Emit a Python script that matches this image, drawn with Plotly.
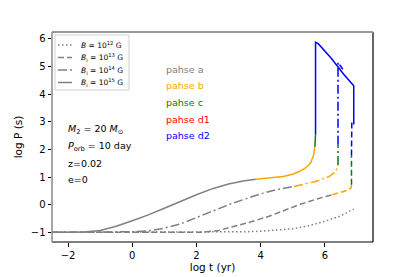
import plotly.graph_objects as go

# ---------------- data ----------------
# B = 1e12 G (dotted) - phase a only
b12_a_t = [-2.5, 0.0, 2.0, 3.0, 3.5, 4.0, 4.5, 5.0, 5.5, 6.0, 6.5, 6.9]
b12_a_p = [-1.0, -1.0, -1.0, -0.99, -0.98, -0.96, -0.92, -0.87, -0.76, -0.6, -0.4, -0.16]

# B_i = 1e13 G (dashed)
b13_a_t = [-2.5, 0.0, 2.2, 2.7, 3.23, 3.7, 4.26, 4.7, 5.2, 5.7, 6.23]
b13_a_p = [-1.0, -1.0, -1.0, -0.93, -0.78, -0.62, -0.42, -0.22, 0.0, 0.19, 0.36]
b13_b_t = [6.23, 6.5, 6.75, 6.82, 6.83]
b13_b_p = [0.36, 0.45, 0.54, 0.62, 0.72]
b13_c_t = [6.83, 6.83]
b13_c_p = [0.72, 1.78]
b13_d2_t = [6.83, 6.84]
b13_d2_p = [1.78, 3.0]

# B_i = 1e14 G (dash-dot)
b14_a_t = [-2.5, -1.0, 0.0, 0.5, 1.0, 1.5, 2.0, 2.5, 3.0, 3.5, 4.0, 4.5, 5.04]
b14_a_p = [-1.0, -1.0, -0.98, -0.95, -0.85, -0.7, -0.47, -0.22, 0.0, 0.2, 0.39, 0.55, 0.66]
b14_b_t = [5.04, 5.4, 5.71, 6.13, 6.3, 6.38, 6.41]
b14_b_p = [0.66, 0.76, 0.84, 1.02, 1.16, 1.3, 1.44]
b14_c_t = [6.41, 6.41]
b14_c_p = [1.44, 2.17]
b14_d2_t = [6.41, 6.41, 6.5, 6.56]
b14_d2_p = [2.17, 5.15, 5.0, 4.9]

# B_i = 1e15 G (solid)
b15_a_t = [-2.5, -2.0, -1.5, -1.0, -0.5, 0.0, 0.5, 1.0, 1.5, 2.0, 2.5, 3.0, 3.5, 3.85]
b15_a_p = [-1.0, -1.0, -0.99, -0.93, -0.78, -0.58, -0.37, -0.13, 0.12, 0.36, 0.58, 0.75, 0.87, 0.92]
b15_b_t = [3.85, 4.3, 4.7, 5.0, 5.2, 5.4, 5.55, 5.64, 5.69]
b15_b_p = [0.92, 0.96, 1.02, 1.1, 1.2, 1.33, 1.5, 1.75, 2.1]
b15_c_t = [5.69, 5.71]
b15_c_p = [2.1, 2.55]
b15_d2_t = [5.71, 5.71, 5.8, 6.2, 6.6, 6.88, 6.9, 6.9]
b15_d2_p = [2.55, 5.88, 5.82, 5.3, 4.7, 4.35, 4.3, 2.9]

legend_names = ["<i>B</i> = 10<sup>12</sup> G", "<i>B</i><sub>i</sub> = 10<sup>13</sup> G",
                "<i>B</i><sub>i</sub> = 10<sup>14</sup> G", "<i>B</i><sub>i</sub> = 10<sup>15</sup> G"]
phase_labels = ["pahse a", "pahse b", "pahse c", "pahse d1", "pahse d2"]
phase_label_y = [4.9, 4.3, 3.7, 3.1, 2.5]
info_labels = ["<i>M</i><sub>2</sub> = 20 <i>M</i><sub>⊙</sub>", "<i>P</i><sub>orb</sub> = 10 day", "z=0.02", "e=0"]
info_y = [2.71, 2.09, 1.5, 0.9]
x_ticks = [-2, 0, 2, 4, 6]
y_ticks = [-1, 0, 1, 2, 3, 4, 5, 6]

# ---------------- styles ----------------
GRAY, ORANGE, GREEN, RED, BLUE = "#808080", "#FFA500", "#008000", "#FF0000", "#0000FF"
phase_colors = [GRAY, ORANGE, GREEN, RED, BLUE]
LW = 1.5
DOT = "1.5px,2.5px"
DASH = "6px,3px"
DASHDOT = "9px,3px,2px,3px"
legend_dashes = [DOT, DASH, DASHDOT, "solid"]
FONT = "DejaVu Sans"

# page body has an 8px margin, so the figure is offset by 8px in the window
OFF = 8
W, H = 415, 277
# desired plot area in window pixels: x 52..373, y 32..242
ML, MT = 52 - OFF, 32 - OFF
PW, PH = 321, 210
MR, MB = W - ML - PW, H - MT - PH

def px(x):
    return (x - OFF - ML) / PW

def py(y):
    return (MT + PH - (y - OFF)) / PH

fig = go.Figure()

def add(t, p, color, dash):
    fig.add_trace(go.Scatter(x=t, y=p, mode="lines",
                             line=dict(color=color, width=LW, dash=dash),
                             showlegend=False, hoverinfo="skip"))

add(b12_a_t, b12_a_p, GRAY, DOT)
add(b13_a_t, b13_a_p, GRAY, DASH)
add(b14_a_t, b14_a_p, GRAY, DASHDOT)
add(b15_a_t, b15_a_p, GRAY, "solid")

add(b13_b_t, b13_b_p, ORANGE, DASH)
add(b13_c_t, b13_c_p, GREEN, DASH)
add(b13_d2_t, b13_d2_p, BLUE, DASH)

add(b14_b_t, b14_b_p, ORANGE, DASHDOT)
add(b14_c_t, b14_c_p, GREEN, DASHDOT)
add(b14_d2_t, b14_d2_p, BLUE, DASHDOT)

add(b15_b_t, b15_b_p, ORANGE, "solid")
add(b15_c_t, b15_c_p, GREEN, "solid")
add(b15_d2_t, b15_d2_p, BLUE, "solid")

annotations = []
for lab, yy, col in zip(phase_labels, phase_label_y, phase_colors):
    annotations.append(dict(x=1.0, y=yy, xref="x", yref="y", text=lab, showarrow=False,
                            xanchor="left", yanchor="middle", font=dict(size=9.5, color=col, family=FONT)))
for lab, yy in zip(info_labels, info_y):
    annotations.append(dict(x=-2.05, y=yy, xref="x", yref="y", text=lab, showarrow=False,
                            xanchor="left", yanchor="middle", font=dict(size=9.5, color="black", family=FONT)))

shapes = [
    dict(type="line", xref="paper", yref="paper", x0=0, x1=1, y0=0, y1=0, line=dict(color="black", width=1.2)),
    dict(type="line", xref="paper", yref="paper", x0=1, x1=1, y0=0, y1=1, line=dict(color="black", width=1.2)),
    dict(type="line", xref="paper", yref="paper", x0=0, x1=1, y0=1, y1=1, line=dict(color="#999999", width=1.8)),
    dict(type="line", xref="paper", yref="paper", x0=0, x1=0, y0=0, y1=1, line=dict(color="#888888", width=1.5)),
]

# legend (drawn as a framed box with line samples and labels), window pixel positions
leg_box = (55, 35, 129, 90)
leg_rows = [45, 57.5, 70, 82.5]
shapes.append(dict(type="rect", xref="paper", yref="paper",
                   x0=px(leg_box[0]), x1=px(leg_box[2]), y0=py(leg_box[3]), y1=py(leg_box[1]),
                   line=dict(color="#d0d0d0", width=1), fillcolor="rgba(255,255,255,0.8)", layer="above"))
for row, name, dash in zip(leg_rows, legend_names, legend_dashes):
    shapes.append(dict(type="line", xref="paper", yref="paper", x0=px(58), x1=px(72),
                       y0=py(row), y1=py(row), line=dict(color=GRAY, width=LW, dash=dash), layer="above"))
    annotations.append(dict(x=px(79), y=py(row), xref="paper", yref="paper", text=name, showarrow=False,
                            xanchor="left", yanchor="middle", font=dict(size=7.5, color="black", family=FONT)))

fig.update_layout(
    width=W, height=H,
    margin=dict(l=ML, r=MR, t=MT, b=MB, autoexpand=False),
    paper_bgcolor="white", plot_bgcolor="white",
    font=dict(family=FONT, size=10, color="black"),
    showlegend=False,
    annotations=annotations,
    shapes=shapes,
    xaxis=dict(range=[-2.5, 7.5], tickvals=x_ticks, ticks="outside", ticklen=3.5,
               tickcolor="black", showgrid=False, zeroline=False, showline=False, automargin=False,
               title=dict(text="log t (yr)", font=dict(size=10.5), standoff=4),
               tickfont=dict(size=10)),
    yaxis=dict(range=[-1.35, 6.25], tickvals=y_ticks, ticks="outside", ticklen=3.5,
               tickcolor="black", showgrid=False, zeroline=False, showline=False, automargin=False,
               title=dict(text="log P (s)", font=dict(size=10.5), standoff=6),
               tickfont=dict(size=10)),
)

fig.write_html("out.html")
